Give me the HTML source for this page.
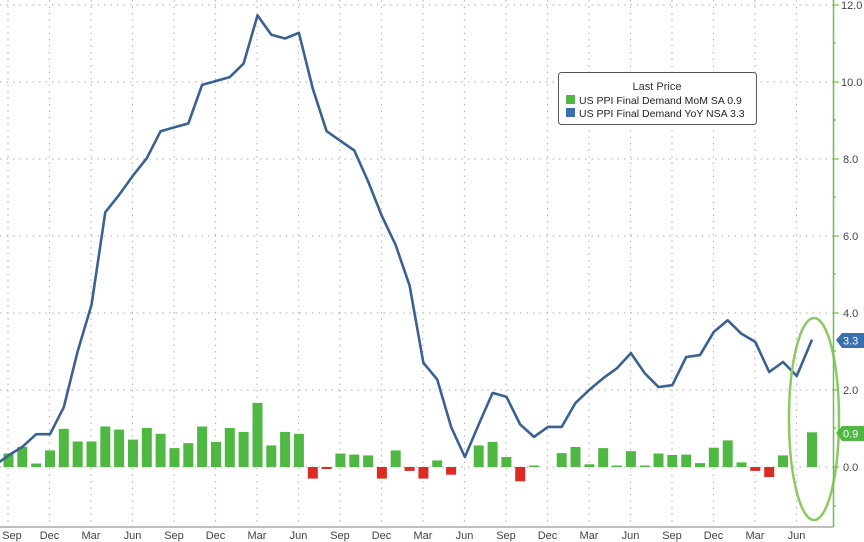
<!DOCTYPE html>
<html><head><meta charset="utf-8"><style>
html,body{margin:0;padding:0;background:#fff;}
svg{display:block;font-family:"Liberation Sans",sans-serif;}
</style></head><body>
<svg width="864" height="542" viewBox="0 0 864 542" xmlns="http://www.w3.org/2000/svg">
<rect width="864" height="542" fill="#fff"/>
<g stroke="#bbb" stroke-width="1.2" stroke-dasharray="1.5,5">
<line x1="0" y1="5" x2="833" y2="5"/><line x1="0" y1="82" x2="833" y2="82"/>
<line x1="0" y1="159" x2="833" y2="159"/><line x1="0" y1="236" x2="833" y2="236"/>
<line x1="0" y1="313" x2="833" y2="313"/><line x1="0" y1="390" x2="833" y2="390"/>
<line x1="0" y1="467" x2="833" y2="467"/>
<line x1="8" y1="0" x2="8" y2="527"/><line x1="49.5" y1="0" x2="49.5" y2="527"/>
<line x1="91" y1="0" x2="91" y2="527"/><line x1="132.5" y1="0" x2="132.5" y2="527"/>
<line x1="174" y1="0" x2="174" y2="527"/><line x1="215.5" y1="0" x2="215.5" y2="527"/>
<line x1="257" y1="0" x2="257" y2="527"/><line x1="298.5" y1="0" x2="298.5" y2="527"/>
<line x1="340" y1="0" x2="340" y2="527"/><line x1="381.5" y1="0" x2="381.5" y2="527"/>
<line x1="423" y1="0" x2="423" y2="527"/><line x1="464.5" y1="0" x2="464.5" y2="527"/>
<line x1="506" y1="0" x2="506" y2="527"/><line x1="547.5" y1="0" x2="547.5" y2="527"/>
<line x1="589" y1="0" x2="589" y2="527"/><line x1="630.5" y1="0" x2="630.5" y2="527"/>
<line x1="672" y1="0" x2="672" y2="527"/><line x1="713.5" y1="0" x2="713.5" y2="527"/>
<line x1="755" y1="0" x2="755" y2="527"/><line x1="796.5" y1="0" x2="796.5" y2="527"/>
</g>
<g transform="translate(1.5,0)">
<g fill="#4fb843">
<rect x="2" y="453.5" width="10" height="13.5"/><rect x="15.8" y="446.9" width="10" height="20.1"/>
<rect x="29.7" y="463.5" width="10" height="3.5"/><rect x="43.5" y="450.4" width="10" height="16.6"/>
<rect x="57.3" y="428.8" width="10" height="38.2"/><rect x="71.2" y="441.5" width="10" height="25.5"/>
<rect x="85" y="441.5" width="10" height="25.5"/><rect x="98.8" y="426.5" width="10" height="40.5"/>
<rect x="112.6" y="429.6" width="10" height="37.4"/><rect x="126.5" y="439.6" width="10" height="27.4"/>
<rect x="140.3" y="428" width="10" height="39"/><rect x="154.1" y="433.8" width="10" height="33.2"/>
<rect x="168" y="448.1" width="10" height="18.9"/><rect x="181.8" y="443.1" width="10" height="23.9"/>
<rect x="195.6" y="426.5" width="10" height="40.5"/><rect x="209.5" y="441.9" width="10" height="25.1"/>
<rect x="223.3" y="428" width="10" height="39"/><rect x="237.1" y="431.9" width="10" height="35.1"/>
<rect x="251" y="402.9" width="10" height="64.1"/><rect x="264.8" y="445.4" width="10" height="21.6"/>
<rect x="278.6" y="431.9" width="10" height="35.1"/><rect x="292.4" y="433.8" width="10" height="33.2"/>
<rect x="333.9" y="453.5" width="10" height="13.5"/><rect x="347.8" y="454.6" width="10" height="12.4"/>
<rect x="361.6" y="455.4" width="10" height="11.6"/><rect x="389.2" y="450.4" width="10" height="16.6"/>
<rect x="430.7" y="460.4" width="10" height="6.6"/>
<rect x="472.2" y="445.4" width="10" height="21.6"/><rect x="486.1" y="441.9" width="10" height="25.1"/>
<rect x="499.9" y="457" width="10" height="10"/><rect x="527.5" y="465.5" width="10" height="1.5"/>
<rect x="555.2" y="453.1" width="10" height="13.9"/><rect x="569" y="446.9" width="10" height="20.1"/>
<rect x="582.9" y="464.3" width="10" height="2.7"/><rect x="596.7" y="448.1" width="10" height="18.9"/>
<rect x="610.5" y="465.5" width="10" height="1.5"/><rect x="624.4" y="451.2" width="10" height="15.8"/>
<rect x="638.2" y="465.5" width="10" height="1.5"/><rect x="652" y="453.5" width="10" height="13.5"/>
<rect x="665.8" y="455" width="10" height="12"/><rect x="679.7" y="454.6" width="10" height="12.4"/>
<rect x="693.5" y="463.1" width="10" height="3.9"/><rect x="707.3" y="447.7" width="10" height="19.3"/>
<rect x="721.2" y="440.4" width="10" height="26.6"/><rect x="735" y="462.4" width="10" height="4.6"/>
<rect x="776.5" y="455.4" width="10" height="11.6"/><rect x="805.5" y="432.3" width="10" height="34.7"/>
</g>
<g fill="#dd2a22">
<rect x="306.3" y="467" width="10" height="11.6"/><rect x="320.1" y="467" width="10" height="2"/>
<rect x="375.4" y="467" width="10" height="11.6"/><rect x="403.1" y="467" width="10" height="3.9"/>
<rect x="416.9" y="467" width="10" height="11.6"/><rect x="444.6" y="467" width="10" height="7.7"/>
<rect x="513.7" y="467" width="10" height="14.3"/><rect x="748.8" y="467" width="10" height="3.9"/>
<rect x="762.7" y="467" width="10" height="10"/>
</g>
<polyline fill="none" stroke="#3a6190" stroke-width="2.6" stroke-linejoin="round" points="-2,462 7,455.4 20.8,446.9 34.7,434.2 48.5,434.2 62.3,407.2 76.2,351.2 90,304.9 103.8,212.2 117.6,194.9 131.5,175.6 145.3,158.2 159.1,131.2 173,127.3 186.8,123.5 200.6,84.9 214.5,81 228.3,77.1 242.1,63.6 256,15.4 269.8,34.7 283.6,38.5 297.4,32.8 311.3,88.7 325.1,131.2 338.9,140.8 352.8,150.5 366.6,181.4 380.4,216.1 394.2,245.1 408.1,285.6 421.9,362.8 435.7,379.4 449.6,426.9 463.4,457 477.2,424.5 491.1,392.9 504.9,396.7 518.7,424.5 532.5,436.9 546.4,426.9 560.2,426.9 574,402.9 587.9,389.8 601.7,378.2 615.5,368.2 629.4,353.1 643.2,373.2 657,387.1 670.8,385.2 684.7,357 698.5,355.1 712.3,331.9 726.2,320.3 740,333.8 753.8,341.9 767.7,372 781.5,362 795.3,375.9 810.5,339.6"/>
</g>
<ellipse cx="814" cy="419" rx="25" ry="101" fill="none" stroke="#8cc863" stroke-width="2.5"/>
<line x1="0" y1="527" x2="833" y2="527" stroke="#999" stroke-width="1.2"/>
<line x1="833.5" y1="0" x2="833.5" y2="527" stroke="#6cc04a" stroke-width="1.5"/>
<g stroke="#6cc04a" stroke-width="1.2">
<line x1="833" y1="5" x2="839" y2="5"/><line x1="833" y1="82" x2="839" y2="82"/>
<line x1="833" y1="159" x2="839" y2="159"/><line x1="833" y1="236" x2="839" y2="236"/>
<line x1="833" y1="313" x2="839" y2="313"/><line x1="833" y1="390" x2="839" y2="390"/>
<line x1="833" y1="467" x2="839" y2="467"/>
<line x1="833" y1="43" x2="836" y2="43"/><line x1="833" y1="120" x2="836" y2="120"/>
<line x1="833" y1="197" x2="836" y2="197"/><line x1="833" y1="274" x2="836" y2="274"/>
<line x1="833" y1="351" x2="836" y2="351"/><line x1="833" y1="428" x2="836" y2="428"/>
<line x1="833" y1="506" x2="836" y2="506"/>
</g>
<g font-size="11" fill="#444">
<text x="841" y="9">12.0</text><text x="841" y="86">10.0</text>
<text x="843" y="163">8.0</text><text x="843" y="240">6.0</text>
<text x="843" y="317">4.0</text><text x="843" y="394">2.0</text>
<text x="843" y="471">0.0</text>
</g>
<polygon points="836,340 842,333 864,333 864,348 842,348" fill="#3a6fb0"/>
<text x="843" y="344.5" font-size="11" fill="#fff">3.3</text>
<polygon points="836,433 842,426 864,426 864,441 842,441" fill="#4fb843"/>
<text x="843" y="437.5" font-size="11" fill="#fff">0.9</text>
<g font-size="11" fill="#444" text-anchor="middle">
<text x="12" y="539">Sep</text><text x="49.5" y="539">Dec</text><text x="91" y="539">Mar</text>
<text x="132.5" y="539">Jun</text><text x="174" y="539">Sep</text><text x="215.5" y="539">Dec</text>
<text x="257" y="539">Mar</text><text x="298.5" y="539">Jun</text><text x="340" y="539">Sep</text>
<text x="381.5" y="539">Dec</text><text x="423" y="539">Mar</text><text x="464.5" y="539">Jun</text>
<text x="506" y="539">Sep</text><text x="547.5" y="539">Dec</text><text x="589" y="539">Mar</text>
<text x="630.5" y="539">Jun</text><text x="672" y="539">Sep</text><text x="713.5" y="539">Dec</text>
<text x="755" y="539">Mar</text><text x="796.5" y="539">Jun</text>
</g>
<rect x="558.5" y="72.5" width="198" height="52" rx="3" fill="#fff" stroke="#555" stroke-width="1"/>
<text x="657" y="90" font-size="11" fill="#333" text-anchor="middle">Last Price</text>
<rect x="566" y="95" width="9" height="9" fill="#4fb843"/>
<text x="579" y="104" font-size="10.5" fill="#222">US PPI Final Demand MoM SA  0.9</text>
<rect x="566" y="108" width="9" height="9" fill="#3a6fb0"/>
<text x="579" y="117" font-size="10.5" fill="#222">US PPI Final Demand YoY NSA 3.3</text>
</svg>
</body></html>
